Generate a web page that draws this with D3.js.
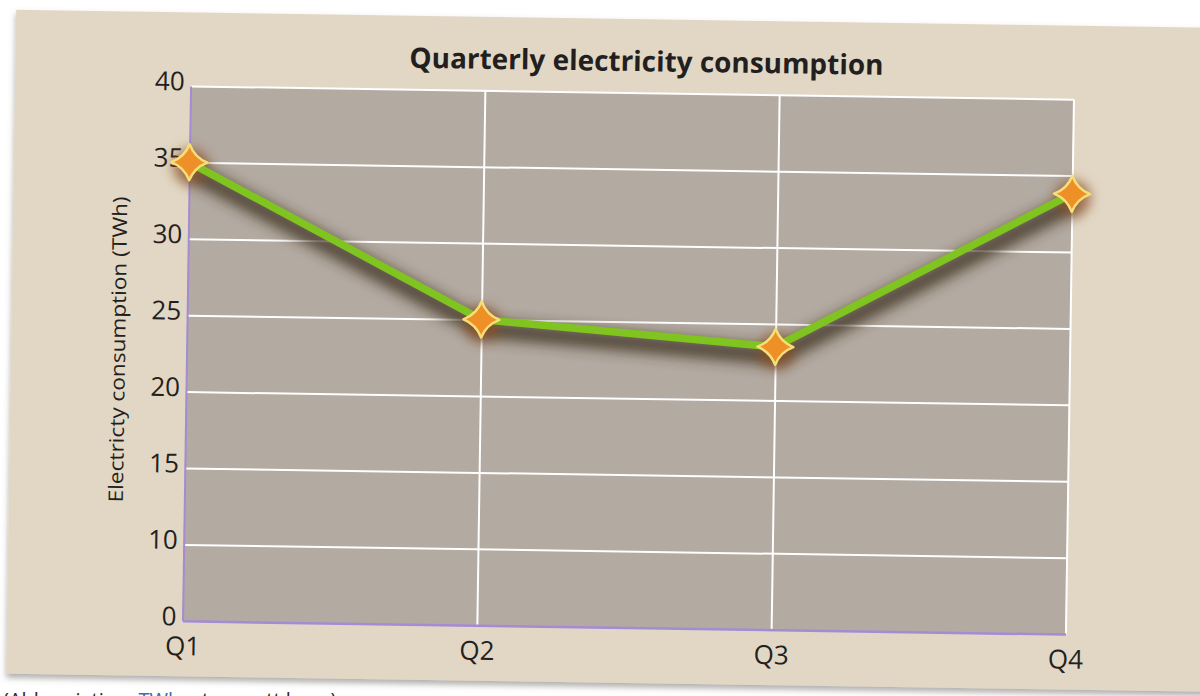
<!DOCTYPE html>
<html>
<head>
<meta charset="utf-8">
<script src="https://cdn.jsdelivr.net/npm/d3@7/dist/d3.min.js"></script>
<style>
  html, body { margin: 0; padding: 0; background: #ffffff; }
  svg { display: block; }
</style>
</head>
<body>
<script>
// Quarterly electricity consumption (TWh)
const quarters = ["Q1", "Q2", "Q3", "Q4"];
const consumption = [35, 25, 23.5, 33.8];
// The value axis is drawn with its lowest tick labelled "0"
const yTickValues = [5, 10, 15, 20, 25, 30, 35, 40];
const yTickLabels = ["0", "10", "15", "20", "25", "30", "35", "40"];
const titleText = "Quarterly electricity consumption";
const yTitleText = "Electricty consumption (TWh)";

const W = 1200, H = 696;
const plot = { left: 186.5, right: 1069.5, top: 92.5, bottom: 627.5 };
const tilt = 0.86, cx = 628, cy = 360;
const font = "'Open Sans', sans-serif";

const svg = d3.select("body").append("svg")
  .attr("width", W).attr("height", H);

const defs = svg.append("defs");

// soft shadow under the paper panel
const ps = defs.append("filter").attr("id", "panelShadow")
  .attr("x", "-5%").attr("y", "-5%").attr("width", "110%").attr("height", "115%");
ps.append("feGaussianBlur").attr("in", "SourceAlpha").attr("stdDeviation", 3).attr("result", "b");
ps.append("feOffset").attr("in", "b").attr("dy", 4).attr("result", "o");
ps.append("feFlood").attr("flood-color", "#6d6a66").attr("flood-opacity", 0.55);
ps.append("feComposite").attr("in2", "o").attr("operator", "in").attr("result", "s");
const psm = ps.append("feMerge");
psm.append("feMergeNode").attr("in", "s");
psm.append("feMergeNode").attr("in", "SourceGraphic");

// plain gaussian blurs for the line shadow and marker halos
defs.append("filter").attr("id", "blurWide")
  .attr("x", "-20%").attr("y", "-40%").attr("width", "140%").attr("height", "180%")
  .append("feGaussianBlur").attr("stdDeviation", 7);
defs.append("filter").attr("id", "blurHalo")
  .attr("x", "-100%").attr("y", "-100%").attr("width", "300%").attr("height", "300%")
  .append("feGaussianBlur").attr("stdDeviation", 6);

// caption on the page below the panel
const cap = svg.append("text")
  .attr("x", 3).attr("y", 707)
  .attr("font-family", font)
  .attr("font-size", 20).attr("fill", "#2a2a2a");
cap.append("tspan").text("(Abbreviation: ");
cap.append("tspan").attr("fill", "#3a6db4").text("TWh");
cap.append("tspan").text(" = terawatt hour)");

// the tilted panel holding the chart
const g = svg.append("g")
  .attr("transform", `rotate(${tilt},${cx},${cy})`);

g.append("rect")
  .attr("x", 11).attr("y", 19)
  .attr("width", 1260).attr("height", 664)
  .attr("fill", "#e2d7c5")
  .attr("filter", "url(#panelShadow)");

const x = d3.scalePoint().domain(quarters).range([plot.left, plot.right]).padding(0);
const y = d3.scaleLinear().domain([5, 40]).range([plot.bottom, plot.top]);

// plot background
g.append("rect")
  .attr("x", plot.left).attr("y", plot.top)
  .attr("width", plot.right - plot.left)
  .attr("height", plot.bottom - plot.top)
  .attr("fill", "#b3aaa2");

// horizontal grid
g.append("g")
  .attr("transform", `translate(${plot.left},0)`)
  .call(d3.axisLeft(y).tickValues(yTickValues.slice(1))
    .tickSize(-(plot.right - plot.left)).tickFormat(""))
  .call(s => s.select(".domain").remove())
  .call(s => s.selectAll("line").attr("stroke", "#ffffff").attr("stroke-width", 2));

// vertical grid
g.append("g")
  .attr("transform", `translate(0,${plot.top})`)
  .call(d3.axisBottom(x).tickValues(quarters.slice(1))
    .tickSize(plot.bottom - plot.top).tickFormat(""))
  .call(s => s.select(".domain").remove())
  .call(s => s.selectAll("line").attr("stroke", "#ffffff").attr("stroke-width", 2));

// y axis
const yAxis = g.append("g")
  .attr("transform", `translate(${plot.left},0)`)
  .call(d3.axisLeft(y).tickValues(yTickValues).tickSize(0).tickPadding(6)
    .tickFormat((d, i) => yTickLabels[i]));
yAxis.select(".domain").attr("stroke", "#a48bd3").attr("stroke-width", 2);
yAxis.selectAll("text")
  .attr("font-family", font)
  .attr("font-size", 26).attr("fill", "#231f20")
  .attr("dy", "0.16em");

// x axis
const xAxis = g.append("g")
  .attr("transform", `translate(0,${plot.bottom})`)
  .call(d3.axisBottom(x).tickSize(0).tickPadding(16));
xAxis.select(".domain").attr("stroke", "#a48bd3").attr("stroke-width", 2.5);
xAxis.selectAll("text")
  .attr("font-family", font)
  .attr("font-size", 26).attr("fill", "#231f20");

// titles
g.append("text")
  .attr("x", 642).attr("y", 71)
  .attr("text-anchor", "middle")
  .attr("font-family", font)
  .attr("font-weight", 700).attr("font-size", 28)
  .attr("fill", "#231f20")
  .attr("textLength", 474).attr("lengthAdjust", "spacingAndGlyphs")
  .text(titleText);

g.append("text")
  .attr("transform", `translate(125,${(plot.top + plot.bottom) / 2 - 3}) rotate(-90)`)
  .attr("text-anchor", "middle")
  .attr("font-family", font)
  .attr("font-size", 20).attr("fill", "#231f20")
  .attr("textLength", 306).attr("lengthAdjust", "spacingAndGlyphs")
  .text(yTitleText);

// data line with its soft dark shadow
const data = quarters.map((q, i) => ({ q, v: consumption[i] }));
const line = d3.line().x(d => x(d.q)).y(d => y(d.v));

g.append("path")
  .datum(data)
  .attr("d", line)
  .attr("transform", "translate(2,9)")
  .attr("fill", "none")
  .attr("stroke", "#3a2a1d")
  .attr("stroke-opacity", 0.8)
  .attr("stroke-width", 18)
  .attr("stroke-linejoin", "round")
  .attr("filter", "url(#blurWide)");

// four-point star markers with a warm halo
const r = 18, k = 5;
const star = `M0,${-r} Q${k},${-k} ${r},0 Q${k},${k} 0,${r} Q${-k},${k} ${-r},0 Q${-k},${-k} 0,${-r}Z`;

g.selectAll(".halo")
  .data(data).join("circle")
  .attr("class", "halo")
  .attr("cx", d => x(d.q) + 1)
  .attr("cy", d => y(d.v) + 4)
  .attr("r", 18)
  .attr("fill", "#8a4f22")
  .attr("fill-opacity", 0.7)
  .attr("filter", "url(#blurHalo)");

g.append("path")
  .datum(data)
  .attr("d", line)
  .attr("fill", "none")
  .attr("stroke", "#80c420")
  .attr("stroke-width", 7.5)
  .attr("stroke-linejoin", "round");

g.selectAll(".marker")
  .data(data).join("path")
  .attr("class", "marker")
  .attr("d", star)
  .attr("transform", d => `translate(${x(d.q)},${y(d.v)})`)
  .attr("fill", "#ef8f28")
  .attr("stroke", "#f6df78")
  .attr("stroke-width", 2.5)
  .attr("stroke-linejoin", "round");
</script>
</body>
</html>
